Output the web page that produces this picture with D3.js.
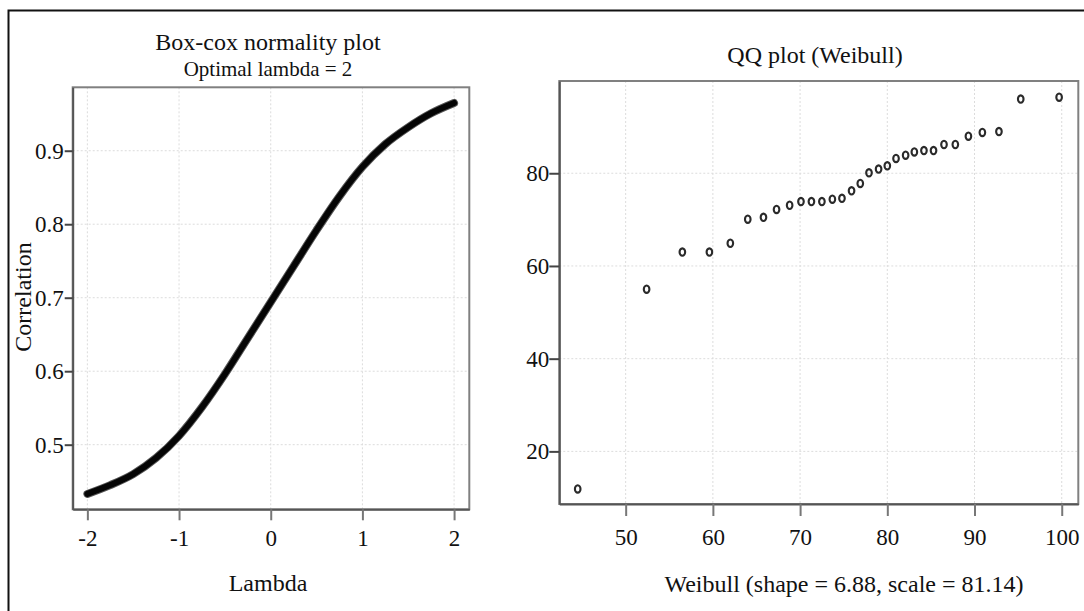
<!DOCTYPE html>
<html>
<head>
<meta charset="utf-8">
<script src="https://cdn.jsdelivr.net/npm/d3@7"></script>
<style>
  body { margin: 0; background: #fff; }
  svg text { font-family: "Liberation Serif", "Times New Roman", serif; fill: #111; }
</style>
</head>
<body>
<div id="chart"></div>
<script>
// Box-cox curve
const lambdas = [-2, -1.75, -1.5, -1.25, -1, -0.75, -0.5, -0.25, 0, 0.25, 0.5, 0.75, 1, 1.25, 1.5, 1.75, 2];
const correlations = [0.433, 0.445, 0.460, 0.482, 0.512, 0.551, 0.596, 0.645, 0.694, 0.743, 0.792, 0.838, 0.878, 0.909, 0.932, 0.951, 0.965];

// QQ plot points (Weibull quantile, sample value)
const weibullQ = [44.5, 52.4, 56.5, 59.6, 62.0, 64.0, 65.8, 67.3, 68.8, 70.1, 71.3, 72.5, 73.7, 74.8, 75.9, 76.9, 77.9, 79.0, 80.0, 81.0, 82.1, 83.1, 84.2, 85.3, 86.5, 87.8, 89.3, 90.9, 92.8, 95.3, 99.7];
const sampleVals = [11.9, 55.0, 63.0, 63.0, 64.9, 70.1, 70.5, 72.2, 73.1, 73.9, 73.9, 73.9, 74.4, 74.6, 76.2, 77.8, 80.1, 80.9, 81.6, 83.2, 83.9, 84.6, 84.9, 84.9, 86.2, 86.2, 88.0, 88.8, 89.0, 96.0, 96.4];

const lambdaTicks = [-2, -1, 0, 1, 2];
const corrTicks = [0.5, 0.6, 0.7, 0.8, 0.9];
const qTicks = [50, 60, 70, 80, 90, 100];
const sTicks = [20, 40, 60, 80];

const width = 1084, height = 611;

const svg = d3.select("#chart").append("svg")
    .attr("width", width)
    .attr("height", height);

// outer frame (runs off the right and bottom edges)
svg.append("rect")
    .attr("x", 8.5).attr("y", 10.5)
    .attr("width", 1200).attr("height", 800)
    .attr("fill", "none").attr("stroke", "#111").attr("stroke-width", 2);

const hyphen = d => (d < 0 ? "-" + Math.abs(d) : String(d));

function panel(box, xDomain, yDomain, xTicks, yTicks, opts) {
    const x = d3.scaleLinear().domain(xDomain).range([box.left, box.right]);
    const y = d3.scaleLinear().domain(yDomain).range([box.bottom, box.top]);
    const g = svg.append("g");

    // dotted grid
    g.append("g").selectAll("line").data(xTicks).join("line")
        .attr("x1", d => x(d)).attr("x2", d => x(d))
        .attr("y1", box.top).attr("y2", box.bottom)
        .attr("stroke", "#dcdcdc").attr("stroke-dasharray", "2,2");
    g.append("g").selectAll("line").data(yTicks).join("line")
        .attr("x1", box.left).attr("x2", box.right)
        .attr("y1", d => y(d)).attr("y2", d => y(d))
        .attr("stroke", "#dcdcdc").attr("stroke-dasharray", "2,2");

    g.append("rect")
        .attr("x", box.left).attr("y", box.top)
        .attr("width", box.right - box.left).attr("height", box.bottom - box.top)
        .attr("fill", "none").attr("stroke", "#808080").attr("stroke-width", 2);

    const xAxis = g.append("g")
        .attr("transform", `translate(0,${box.bottom})`)
        .call(d3.axisBottom(x).tickValues(xTicks).tickSize(opts.xTickSize).tickPadding(opts.xPad)
            .tickSizeOuter(0).tickFormat(hyphen));
    const yAxis = g.append("g")
        .attr("transform", `translate(${box.left},0)`)
        .call(d3.axisLeft(y).tickValues(yTicks).tickSize(opts.yTickSize).tickPadding(opts.yPad).tickSizeOuter(0)
            .tickFormat(opts.yFormat || hyphen));
    xAxis.select(".domain").attr("stroke", "#555").attr("stroke-width", 2);
    yAxis.select(".domain").attr("stroke", "#555").attr("stroke-width", 2);
    xAxis.selectAll(".tick line").attr("stroke", "#777").attr("stroke-width", 2);
    yAxis.selectAll(".tick line").attr("stroke", "#444").attr("stroke-width", 2);
    g.selectAll(".tick text").style("font-size", "23px").attr("fill", "#111");

    return { g, x, y };
}

// ---- left: Box-cox normality plot
const left = panel({ left: 72.7, right: 469.3, top: 87.3, bottom: 509.3 },
    [-2.16, 2.166], [0.4121, 0.9863], lambdaTicks, corrTicks,
    { xTickSize: 11, xPad: 9, yTickSize: 8, yPad: 1, yFormat: d3.format(".1f") });

const curve = lambdas.map((l, i) => [l, correlations[i]]);
const curveLine = d3.line().x(d => left.x(d[0])).y(d => left.y(d[1])).curve(d3.curveMonotoneX);
left.g.append("path")
    .datum(curve)
    .attr("fill", "none")
    .attr("stroke", "#555")
    .attr("stroke-width", 8)
    .attr("stroke-linecap", "round")
    .attr("d", curveLine);
left.g.append("path")
    .datum(curve)
    .attr("fill", "none")
    .attr("stroke", "#050505")
    .attr("stroke-width", 6)
    .attr("stroke-linecap", "round")
    .attr("d", curveLine);

svg.append("text").attr("x", 268).attr("y", 50).attr("text-anchor", "middle")
    .style("font-size", "24px").text("Box-cox normality plot");
svg.append("text").attr("x", 268).attr("y", 76).attr("text-anchor", "middle")
    .style("font-size", "21px").text("Optimal lambda = 2");
svg.append("text").attr("x", 268).attr("y", 591).attr("text-anchor", "middle")
    .style("font-size", "24px").text("Lambda");
svg.append("text").attr("transform", "translate(31,297) rotate(-90)").attr("text-anchor", "middle")
    .style("font-size", "24px").text("Correlation");

// ---- right: QQ plot (Weibull)
const right = panel({ left: 559.3, right: 1078.3, top: 81, bottom: 504 },
    [42.39, 101.9], [8.65, 99.9], qTicks, sTicks,
    { xTickSize: 12, xPad: 13, yTickSize: 10, yPad: 0 });

right.g.append("g").selectAll("ellipse")
    .data(weibullQ.map((q, i) => [q, sampleVals[i]]))
    .join("ellipse")
    .attr("cx", d => right.x(d[0]))
    .attr("cy", d => right.y(d[1]))
    .attr("rx", 2.8)
    .attr("ry", 3.7)
    .attr("fill", "none")
    .attr("stroke", "#2a2a2a")
    .attr("stroke-width", 2.1);

svg.append("text").attr("x", 815).attr("y", 63).attr("text-anchor", "middle")
    .style("font-size", "24px").text("QQ plot (Weibull)");
svg.append("text").attr("x", 844).attr("y", 592).attr("text-anchor", "middle")
    .style("font-size", "24px").text("Weibull (shape = 6.88, scale = 81.14)");
</script>
</body>
</html>
